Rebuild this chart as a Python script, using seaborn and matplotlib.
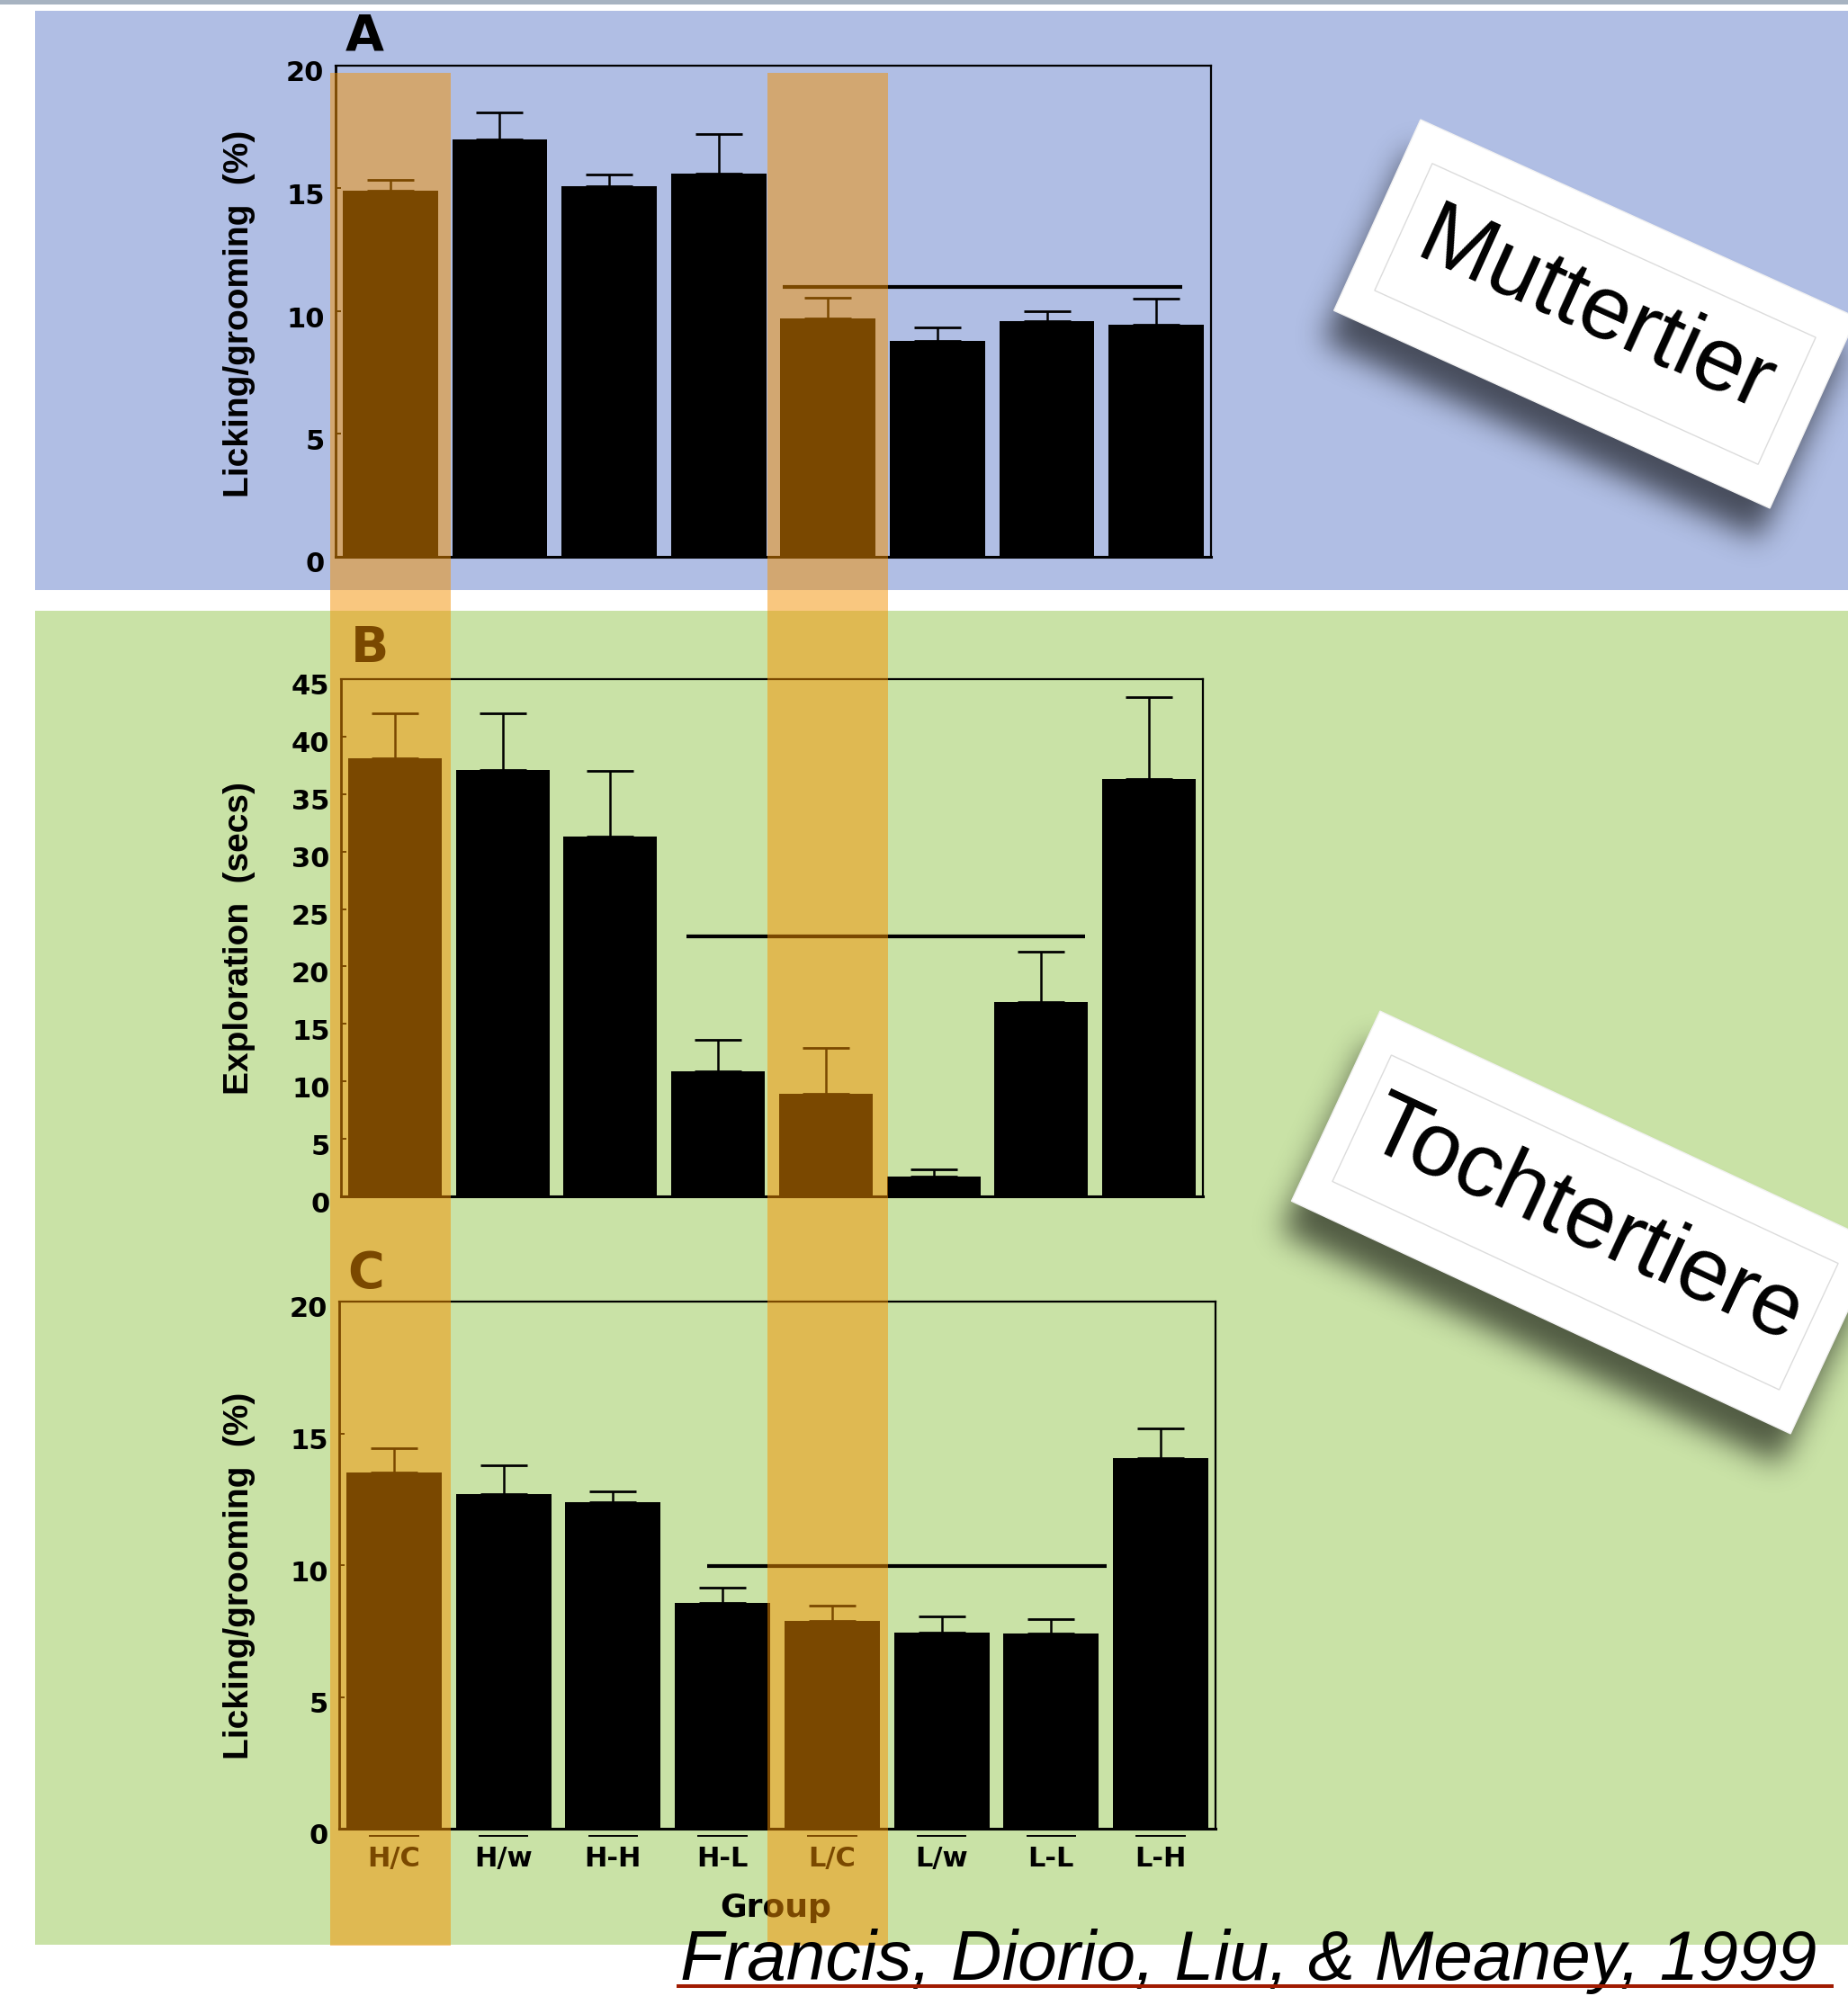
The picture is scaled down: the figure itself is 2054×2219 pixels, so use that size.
import numpy as np
import pandas as pd
import matplotlib
matplotlib.use("Agg")
import matplotlib.pyplot as plt
from matplotlib.patches import Rectangle, Polygon
from matplotlib.path import Path
import matplotlib.transforms as mtransforms
import seaborn as sns

# ---------------------------------------------------------------- data
groups = ["H/C", "H/w", "H-H", "H-L", "L/C", "L/w", "L-L", "L-H"]

# A: licking/grooming of the mothers (%)
lg_mothers = [14.9, 17.0, 15.1, 15.6, 9.7, 8.8, 9.6, 9.45]
lg_mothers_sem = [0.45, 1.1, 0.45, 1.6, 0.85, 0.55, 0.4, 1.05]

# B: exploration of the offspring (secs)
exploration = [38.1, 37.1, 31.3, 10.9, 8.9, 1.7, 16.9, 36.3]
exploration_sem = [3.9, 4.9, 5.7, 2.75, 4.0, 0.65, 4.4, 7.1]

# C: licking/grooming of the offspring as mothers (%)
lg_daughters = [13.5, 12.7, 12.4, 8.55, 7.9, 7.45, 7.4, 14.05]
lg_daughters_sem = [0.95, 1.1, 0.4, 0.6, 0.55, 0.6, 0.55, 1.15]

# significance bars: (level, first category, last category)
sig_a = (11.0, 3.59, 7.24)
sig_b = (22.6, 2.71, 6.41)
sig_c = (9.95, 2.86, 6.51)

highlight = ["H/C", "L/C"]

# ---------------------------------------------------------------- fonts
plt.rcParams["font.family"] = ["DejaVu Sans"]
ARIAL = ["Liberation Sans", "DejaVu Sans"]

# ---------------------------------------------------------------- figure
W, H = 2054, 2219
fig = plt.figure(figsize=(W / 100, H / 100), dpi=100)
fig.patch.set_facecolor("white")


def px_axes(l, t, r, b, **kw):
    return fig.add_axes([l / W, 1 - b / H, (r - l) / W, (b - t) / H], **kw)


def px(x, y):
    return x / W, 1 - y / H


# background bands
bg = px_axes(0, 0, W, H, zorder=-10)
bg.set_xlim(0, W)
bg.set_ylim(H, 0)
bg.axis("off")
bg.add_patch(Rectangle((0, 0), W, 5, color="#a7b3c1", lw=0))
bg.add_patch(Rectangle((39, 12), W - 39, 644, color="#b0bee4", lw=0))
bg.add_patch(Rectangle((39, 679), W - 39, 1483, color="#c9e2a6", lw=0))

panel_boxes = {
    "A": (373, 73, 1346, 619),
    "B": (379, 755, 1337, 1330),
    "C": (377, 1447, 1351, 2033),
}


def draw_panel(box, values, sems, ymax, step, sig, show_x):
    l, t, r, b = box
    ax = px_axes(l, t, r, b)
    ax.set_facecolor("none")
    df = pd.DataFrame({"group": groups, "value": values})
    sns.barplot(data=df, x="group", y="value", order=groups, color="black",
                saturation=1, width=0.87, errorbar=None, ax=ax, zorder=2)
    xpos = np.arange(len(groups))
    ax.errorbar(xpos, values, yerr=[np.zeros(len(xpos)), sems], fmt="none",
                ecolor="black", elinewidth=1.8, capsize=18.5, capthick=2.0,
                zorder=3)
    ax.hlines(sig[0], sig[1], sig[2], color="black", lw=3.0, zorder=3)
    ax.set_xlim(-0.5, len(groups) - 0.5)
    ax.set_ylim(0, ymax)
    ticks = np.arange(0, ymax + 0.01, step)
    ax.set_yticks(ticks)
    ax.set_yticklabels([f"{v:g}" for v in ticks])
    ax.set_xlabel("")
    ax.set_ylabel("")
    for s in ax.spines.values():
        s.set_visible(True)
        s.set_color("black")
        s.set_linewidth(1.6)
    ax.spines["bottom"].set_linewidth(2.2)
    ax.spines["left"].set_linewidth(2.0)
    ax.tick_params(axis="y", length=4, width=1.4, direction="in", pad=9,
                   labelsize=22)
    ax.tick_params(axis="x", length=0, pad=14, labelsize=22,
                   labelbottom=show_x)
    off = mtransforms.ScaledTranslation(0, -6 / 100, fig.dpi_scale_trans)
    for lab in ax.get_yticklabels():
        lab.set_fontweight("bold")
        lab.set_transform(lab.get_transform() + off)
    for lab in ax.get_xticklabels():
        lab.set_fontweight("bold")
    if show_x:
        xt = ax.get_xaxis_transform()
        for x in xpos:
            ax.plot([x - 0.22, x + 0.22], [-0.013, -0.013], color="black",
                    lw=1.4, transform=xt, clip_on=False)
    return ax


ax_a = draw_panel(panel_boxes["A"], lg_mothers, lg_mothers_sem, 20, 5, sig_a, False)
ax_b = draw_panel(panel_boxes["B"], exploration, exploration_sem, 45, 5, sig_b, False)
ax_c = draw_panel(panel_boxes["C"], lg_daughters, lg_daughters_sem, 20, 5, sig_c, True)

# panel letters
for letter, (x, y) in {"A": (384, 56), "B": (390, 736), "C": (386, 1431)}.items():
    fig.text(*px(x, y), letter, fontsize=40, fontweight="bold", ha="left",
             va="baseline")

# y-axis titles
ylab_kw = dict(rotation=90, ha="center", va="center", rotation_mode="anchor",
               fontweight="bold", family=ARIAL, fontsize=28)
fig.text(*px(266, 349), "Licking/grooming  (%)", **ylab_kw)
fig.text(*px(266, 1043), "Exploration  (secs)", **ylab_kw)
fig.text(*px(266, 1752), "Licking/grooming  (%)", **ylab_kw)
fig.text(*px(862, 2121), "Group", fontsize=26, fontweight="bold",
         ha="center", va="center")

# ---------------------------------------------------------------- overlay
ov = px_axes(0, 0, W, H, zorder=5)
ov.set_facecolor("none")
ov.axis("off")

# translucent columns marking the two control groups
la, _, ra, _ = panel_boxes["A"]
slot = (ra - la) / len(groups)
for g in highlight:
    cx = la + (groups.index(g) + 0.5) * slot
    ov.add_patch(Rectangle((cx - 67, 81), 134, 2082,
                           facecolor=(245 / 255, 145 / 255, 0),
                           alpha=0.5, lw=0, zorder=2))


def blur1d(a, k, axis):
    r = len(k) // 2
    padw = [(0, 0), (0, 0)]
    padw[axis] = (r, r)
    p = np.pad(a, padw, mode="constant")
    out = np.zeros_like(a)
    n = a.shape[axis]
    for i, w in enumerate(k):
        sl = [slice(None), slice(None)]
        sl[axis] = slice(i, i + n)
        out += w * p[tuple(sl)]
    return out


def soft_shadow(corners, dx, dy, sigma, strength):
    pts = corners + np.array([dx, dy])
    pad = int(4 * sigma)
    x0 = int(pts[:, 0].min()) - pad
    x1 = int(pts[:, 0].max()) + pad
    y0 = int(pts[:, 1].min()) - pad
    y1 = int(pts[:, 1].max()) + pad
    gx, gy = np.meshgrid(np.arange(x0, x1) + 0.5, np.arange(y0, y1) + 0.5)
    inside = Path(pts).contains_points(
        np.column_stack([gx.ravel(), gy.ravel()])).reshape(gx.shape).astype(float)
    k = np.exp(-0.5 * (np.arange(-3 * sigma, 3 * sigma + 1) / sigma) ** 2)
    k /= k.sum()
    soft = blur1d(blur1d(inside, k, 0), k, 1)
    rgba = np.zeros(inside.shape + (4,))
    rgba[..., 3] = soft * strength
    ov.imshow(rgba, extent=(x0, x1, y1, y0), interpolation="bilinear", zorder=3)


def sticker(cx, cy, length, height, angle, text, size):
    a = np.deg2rad(angle)
    u = np.array([np.cos(a), np.sin(a)])
    v = np.array([-np.sin(a), np.cos(a)])
    c = np.array([cx, cy])

    def rect(hl, hh):
        return np.array([c - u * hl - v * hh, c + u * hl - v * hh,
                         c + u * hl + v * hh, c - u * hl + v * hh])

    outer = rect(length / 2, height / 2)
    soft_shadow(outer, -12, 34, 16, 0.6)
    ov.add_patch(Polygon(outer, closed=True, facecolor="white",
                         edgecolor="#f2f2f2", lw=1, zorder=4))
    inner = rect(length / 2 - 32, height / 2 - 39)
    ov.add_patch(Polygon(inner, closed=True, fill=False, edgecolor="#dcdcdc",
                         lw=1.0, zorder=5))
    ov.text(cx, cy, text, rotation=-angle, rotation_mode="anchor", ha="center",
            va="center", fontsize=size, family=ARIAL, color="black", zorder=6)


sticker(1773, 349, 532, 233, 24.4, "Muttertier", 72)
sticker(1762, 1359, 612, 233, 25.0, "Tochtertiere", 72)

# citation
ov.text(756, 2201, "Francis, Diorio, Liu, & Meaney, 1999", fontsize=56.5,
        style="italic", family=ARIAL, ha="left", va="baseline",
        color="black", zorder=7)
ov.plot([752, 2038], [2208, 2208], color="#a01a00", lw=2.9, zorder=7,
        solid_capstyle="butt")

ov.set_xlim(0, W)
ov.set_ylim(H, 0)
ov.set_aspect("auto")

fig.savefig("out.png", dpi=100)
